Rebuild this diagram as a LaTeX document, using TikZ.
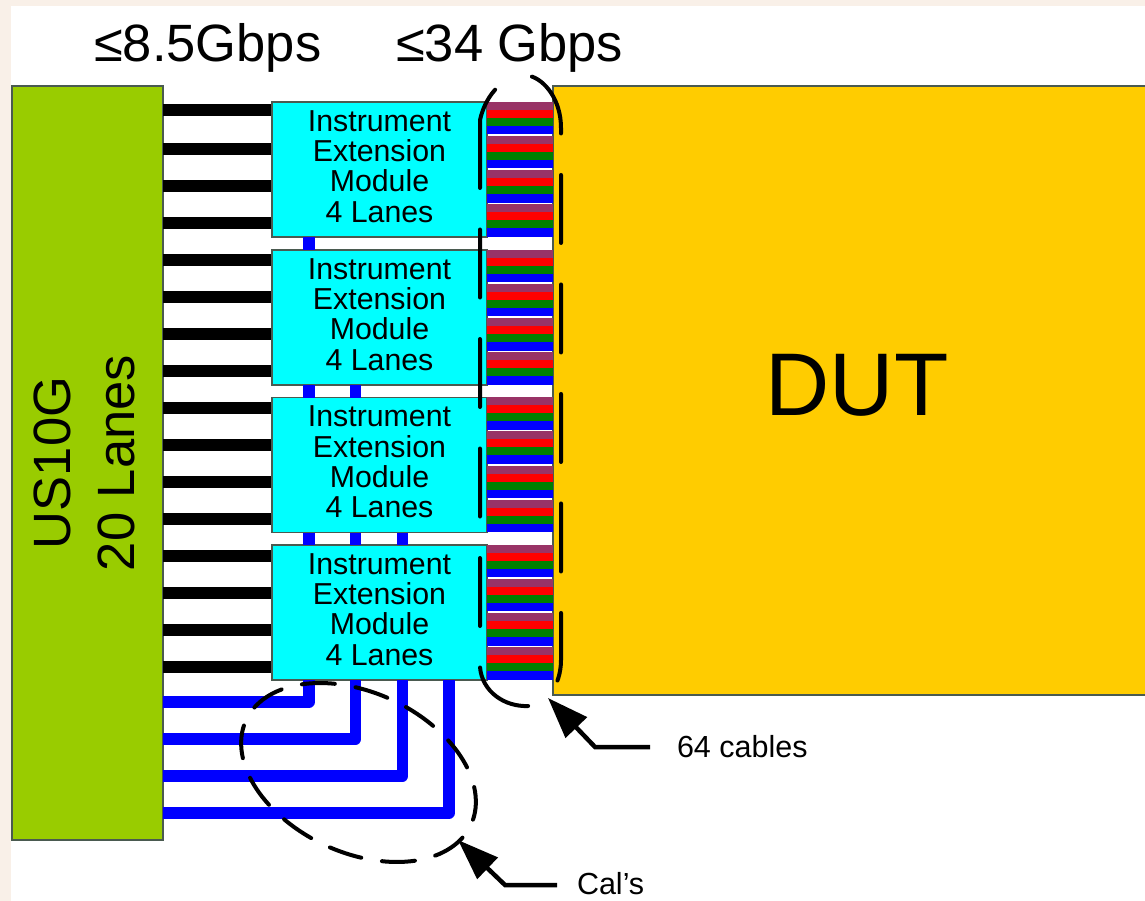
\documentclass[tikz,border=0pt]{standalone}
\usepackage{fontspec}
\setmainfont{Liberation Sans}
\usetikzlibrary{arrows.meta}
\definecolor{bgbeige}{HTML}{F9F0E8}
\definecolor{usgreen}{HTML}{99CC00}
\definecolor{dutyellow}{HTML}{FFCC00}
\definecolor{modcyan}{HTML}{00FFFF}
\definecolor{edgegrey}{HTML}{4A5A50}
\definecolor{cabpurple}{HTML}{993366}
\definecolor{cabred}{HTML}{FF0000}
\definecolor{cabgreen}{HTML}{008000}
\definecolor{cabblue}{HTML}{0000FF}
\newcommand{\fsz}[1]{\fontsize{#1}{#1}\selectfont}
\tikzset{
  x=1pt,y=-1pt,
  blockbox/.style={draw=edgegrey,line width=1.2pt,inner sep=0pt,outer sep=0pt,anchor=north west},
  modbox/.style={blockbox,fill=modcyan,minimum width=215pt,minimum height=135pt},
  lane/.style={line width=11.5pt,black},
  callane/.style={line width=11.5pt,cabblue,line join=round},
  cable/.style={line width=8.5pt},
  dashloop/.style={line width=4pt,black,line cap=round},
  callout/.style={line width=4.5pt,black,line join=miter,-{Stealth[length=41pt,width=29pt,inset=0pt]}},
  label/.style={inner sep=0pt,outer sep=0pt,anchor=base west},
}
\begin{document}
\begin{tikzpicture}
\useasboundingbox (0,0) rectangle (1145,901);
\fill[bgbeige] (0,0) rectangle (1145,901);
\fill[white] (11,6) rectangle (1145,901);

% big blocks
\node[blockbox,fill=usgreen,minimum width=151pt,minimum height=754pt] (us) at (12,86) {};
\node[blockbox,fill=dutyellow,minimum width=600pt,minimum height=609pt] (dut) at (553,86) {};
\node[font=\fsz{89},inner sep=0pt] (duttext) at (857,385) {DUT};
\node[font=\fontsize{52.5}{64}\selectfont,rotate=90,inner sep=0pt,align=center] (ustext) at (84,463) {US10G\\20 Lanes};

% lanes beneath modules
\foreach \y in {110,149,186,223,260,297,334,371,408,445,482,519,556,593,630,667}{
  \coordinate (l) at (0,\y);
  \coordinate (r) at (272,\y);
  \draw[lane] (us.east |- l) -- (r);
}

% modules
\foreach \n/\t in {1/102,2/250,3/397.5,4/545}{
  \node[modbox] (mod\n) at (272,\t) {};
  \node[font=\fsz{30.3},align=center,inner sep=0pt,anchor=center] (modtext\n) at (379.5,\t+64.5)
     {\baselineskip=30.4pt Instrument\\Extension\\Module\\4 Lanes};
}

% cables
\foreach \n/\t in {1/102,2/250,3/397.5,4/545}{
  \foreach \g in {0,1,2,3}{
    \foreach \s/\c in {0/cabpurple,1/cabred,2/cabgreen,3/cabblue}{
      \coordinate (c) at (0,\t+4+\g*34.2+\s*8);
      \draw[cable,\c] (mod\n.east |- c) -- (dut.west |- c);
    }
  }
}

% calibration links
\coordinate (ca) at (309,702);
\coordinate (cb) at (355.5,739);
\coordinate (cc) at (402.5,776);
\coordinate (cd) at (449,813);
\draw[callane] (us.east |- ca) -- (ca) -- (ca |- mod4.south);
\draw[callane] (us.east |- cb) -- (cb) -- (cb |- mod4.south);
\draw[callane] (us.east |- cc) -- (cc) -- (cc |- mod4.south);
\draw[callane] (us.east |- cd) -- (cd) -- (cd |- mod4.south);
\draw[callane] (ca |- mod1.south) -- (ca |- mod2.north);
\draw[callane] (ca |- mod2.south) -- (ca |- mod3.north);
\draw[callane] (ca |- mod3.south) -- (ca |- mod4.north);
\draw[callane] (cb |- mod2.south) -- (cb |- mod3.north);
\draw[callane] (cb |- mod3.south) -- (cb |- mod4.north);
\draw[callane] (cc |- mod3.south) -- (cc |- mod4.north);

% dashed loops
\draw[dashloop,dash pattern=on 68pt off 41.5pt]
  (480,120) -- (480,667) .. controls (482,692) and (505,707) .. (528,706)
  .. controls (545,707) and (561,686) .. (561,660) -- (561,128)
  .. controls (561,100) and (545,80) .. (530,76)
  .. controls (515,71) and (488,85) .. (480,120);
\draw[dashloop,dash pattern=on 33pt off 21pt,shift={(358.5,772.5)},rotate=-25]
  (252:124 and 80) arc[start angle=252,end angle=612,x radius=124,y radius=80];

% callouts
\node[font=\fsz{30.5},label] (lab64) at (677,757) {64 cables};
\node[font=\fsz{30.5},label] (labcal) at (577,894) {Cal’s};
\coordinate (t64) at (548,698);
\coordinate (tcal) at (458,840);
\coordinate (k64) at (595,747);
\coordinate (kcal) at (505,885);
\draw[callout] (650,747) -- (k64) -- (t64);
\draw[callout] (557,885) -- (kcal) -- (tcal);

% rate labels
\node[font=\fsz{52.5},label] (r1) at (94,62) {≤8.5Gbps};
\node[font=\fsz{52.5},label] (r2) at (396,62) {≤34 Gbps};
\end{tikzpicture}
\end{document}
